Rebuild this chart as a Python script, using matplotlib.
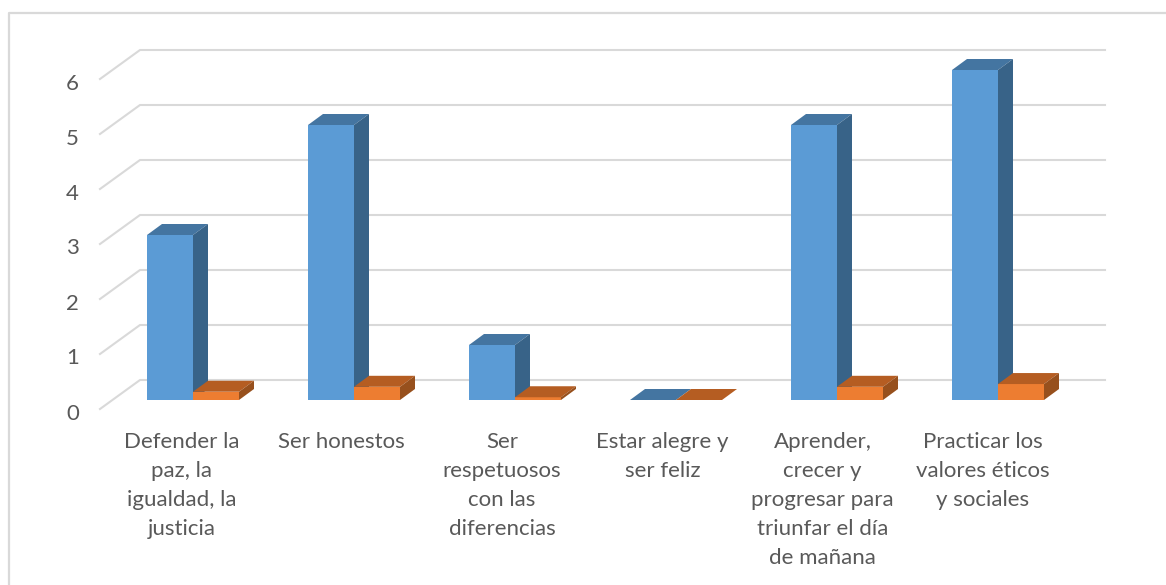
import matplotlib
matplotlib.use("Agg")
import matplotlib.pyplot as plt
from matplotlib.patches import Polygon

W, H = 1166, 585

categories = [
    "Defender la\npaz, la\nigualdad, la\njusticia",
    "Ser honestos",
    "Ser\nrespetuosos\ncon las\ndiferencias",
    "Estar alegre y\nser feliz",
    "Aprender,\ncrecer y\nprogresar para\ntriunfar el día\nde mañana",
    "Practicar los\nvalores éticos\ny sociales",
]
serie_a = [3, 5, 1, 0, 5, 6]
serie_b = [0.15, 0.24, 0.05, 0, 0.24, 0.29]
yticks = [0, 1, 2, 3, 4, 5, 6]
# only the descenders of the page title above the chart are visible
title_letters = ["y", "p", "g"]
title_px = [398, 520, 931]

PX_X = 161.0
PX_Y = 55.0
X0 = 193.0
Y0 = 400.0
bar_w = 46 / PX_X
dep_x = 15 / PX_X
dep_y = 11 / PX_Y


def px_x(x):
    return (x - X0) / PX_X


def px_y(y):
    return (Y0 - y) / PX_Y


def draw_bar(ax, x, val, front, top, side):
    ax.bar(x, val, bar_w, align="edge", color=front, zorder=3, linewidth=0)
    ax.add_patch(Polygon([(x, val), (x + bar_w, val), (x + bar_w + dep_x, val + dep_y), (x + dep_x, val + dep_y)],
                         closed=True, facecolor=top, edgecolor="none", zorder=3))
    ax.add_patch(Polygon([(x + bar_w, 0), (x + bar_w + dep_x, dep_y), (x + bar_w + dep_x, val + dep_y), (x + bar_w, val)],
                         closed=True, facecolor=side, edgecolor="none", zorder=3))


def main():
    plt.rcParams["font.family"] = ["Lato", "DejaVu Sans"]
    fig = plt.figure(figsize=(W / 100, H / 100), dpi=100)
    ax = fig.add_axes([0, 0, 1, 1])
    ax.set_xlim(px_x(0), px_x(W))
    ax.set_ylim(px_y(H), px_y(0))
    ax.axis("off")

    # chart frame: only left and top edges are in the crop
    ax.plot([px_x(9), px_x(9), px_x(W)], [px_y(H), px_y(13), px_y(13)], color="#d9d9d9", lw=1.6, zorder=1)

    for letter, x in zip(title_letters, title_px):
        ax.text(px_x(x), px_y(-5.5), letter, ha="center", va="baseline", fontsize=15,
                family="Liberation Serif", weight="bold", color="black", clip_on=False)

    # grid with its perspective stub
    for v in yticks:
        y_front = v - 9 / PX_Y
        y_back = v + 20 / PX_Y
        ax.plot([px_x(100), px_x(140), px_x(1105)], [y_front, y_back, y_back], color="#d9d9d9", lw=1.5, zorder=2)
        ax.text(px_x(79), y_front - 4.5 / PX_Y, str(v), ha="right", va="center", fontsize=16, color="#595959")

    for i in range(len(categories)):
        draw_bar(ax, i - bar_w, serie_a[i], "#5b9bd5", "#4475a1", "#386388")
        draw_bar(ax, i, serie_b[i], "#ed7d31", "#b55d22", "#97501d")
        ax.text(px_x(181.5) + i * 160.3 / PX_X, px_y(431.5), categories[i], ha="center", va="top",
                fontsize=16, color="#595959", linespacing=1.565)

    fig.savefig("out.png", dpi=100, facecolor="white")


if __name__ == "__main__":
    main()
